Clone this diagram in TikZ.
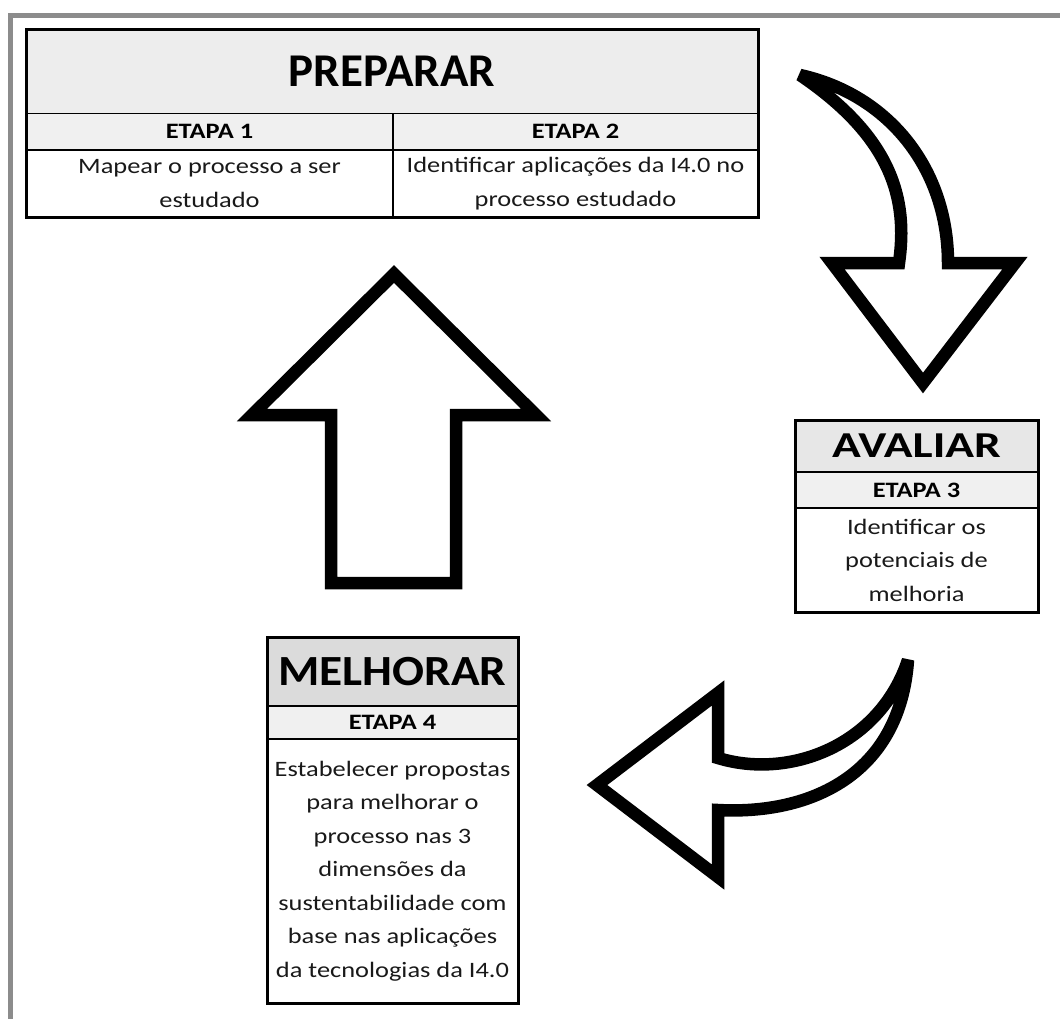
\documentclass[tikz,border=0pt]{standalone}
\usepackage{fontspec}
\setmainfont{Carlito}
\newfontfamily\cellfont[FakeStretch=1.2]{Carlito}
\newfontfamily\prepfont{Carlito}
\newfontfamily\melhfont[FakeStretch=1.1]{Carlito}
\newfontfamily\avalfont[FakeStretch=1.3]{Carlito}
\usetikzlibrary{positioning}
\definecolor{prepgray}{HTML}{EDEDED}
\definecolor{avalgray}{HTML}{E7E7E7}
\definecolor{melhgray}{HTML}{DBDBDB}
\definecolor{stepgray}{HTML}{F0F0F0}
\definecolor{framegray}{HTML}{8C8C8C}
\tikzset{
  cell/.style={draw, line width=1.5pt, inner sep=0pt, outer sep=0pt},
  titlecell/.style={cell, font=\bfseries},
  stepcell/.style={cell, fill=stepgray, font=\cellfont\bfseries\fontsize{22}{22}\selectfont},
  textcell/.style={cell, align=center, text=black!90, font=\cellfont\fontsize{22}{33.5}\selectfont},
  boxline/.style={draw, line width=3pt},
  blockarrow/.style={draw, fill=white, line width=12.5pt, miter limit=3}
}
\begin{document}
\begin{tikzpicture}[x=1pt, y=-1pt]
  \useasboundingbox (0,0) rectangle (1060,1018);
  \draw [framegray, line width=5pt] (1062,15.5) -- (10,15.5) -- (10,1020);

  \node [titlecell, fill=prepgray, minimum width=732pt, minimum height=84.5pt, anchor=north west] (prep) at (26,29) {\prepfont\bfseries\fontsize{47}{47}\selectfont PREPARAR};
  \node [stepcell, minimum width=367pt, minimum height=36.5pt, anchor=north west] (etapa1) at (prep.south west) {ETAPA 1};
  \node [stepcell, minimum width=365pt, minimum height=36.5pt, right=0pt of etapa1] (etapa2) {ETAPA 2};
  \node [textcell, minimum width=367pt, minimum height=67pt, below=0pt of etapa1] (mapear) {Mapear o processo a ser\\estudado};
  \node [textcell, minimum width=365pt, minimum height=67pt, below=0pt of etapa2] (identif) {Identificar aplicações da I4.0 no\\processo estudado};
  \draw [boxline] (prep.north west) rectangle (identif.south east);

  \node [titlecell, fill=avalgray, minimum width=243pt, minimum height=52pt, anchor=north west] (aval) at (795,420) {\avalfont\bfseries\fontsize{36.5}{36.5}\selectfont AVALIAR};
  \node [stepcell, minimum width=243pt, minimum height=36pt, below=0pt of aval] (etapa3) {ETAPA 3};
  \node [textcell, minimum width=243pt, minimum height=104pt, below=0pt of etapa3] (potenc) {Identificar os\\potenciais de\\melhoria};
  \draw [boxline] (aval.north west) rectangle (potenc.south east);

  \node [titlecell, fill=melhgray, minimum width=251pt, minimum height=69pt, anchor=north west] (melh) at (267,637) {\melhfont\bfseries\fontsize{43}{43}\selectfont MELHORAR};
  \node [stepcell, minimum width=251pt, minimum height=33pt, below=0pt of melh] (etapa4) {ETAPA 4};
  \node [textcell, minimum width=251pt, minimum height=264pt, below=0pt of etapa4] (propost) {Estabelecer propostas\\para melhorar o\\processo nas 3\\dimensões da\\sustentabilidade com\\base nas aplicações\\da tecnologias da I4.0};
  \draw [boxline] (melh.north west) rectangle (propost.south east);

  \draw [blockarrow] (800,75) .. controls (890,95) and (948,170) .. (948,263) -- (1015,263) -- (923,383) -- (832,263) -- (899,263) .. controls (908,200) and (893,138) .. (800,75) -- cycle;
  \draw [blockarrow] (908,660) .. controls (880,745) and (790,780) .. (718,758) -- (718,693) -- (597,785) -- (718,877) -- (718,810) .. controls (810,815) and (900,775) .. (908,660) -- cycle;
  \draw [blockarrow] (331,583) -- (331,415) -- (252,415) -- (394,274) -- (536,415) -- (456,415) -- (456,583) -- cycle;
\end{tikzpicture}
\end{document}
